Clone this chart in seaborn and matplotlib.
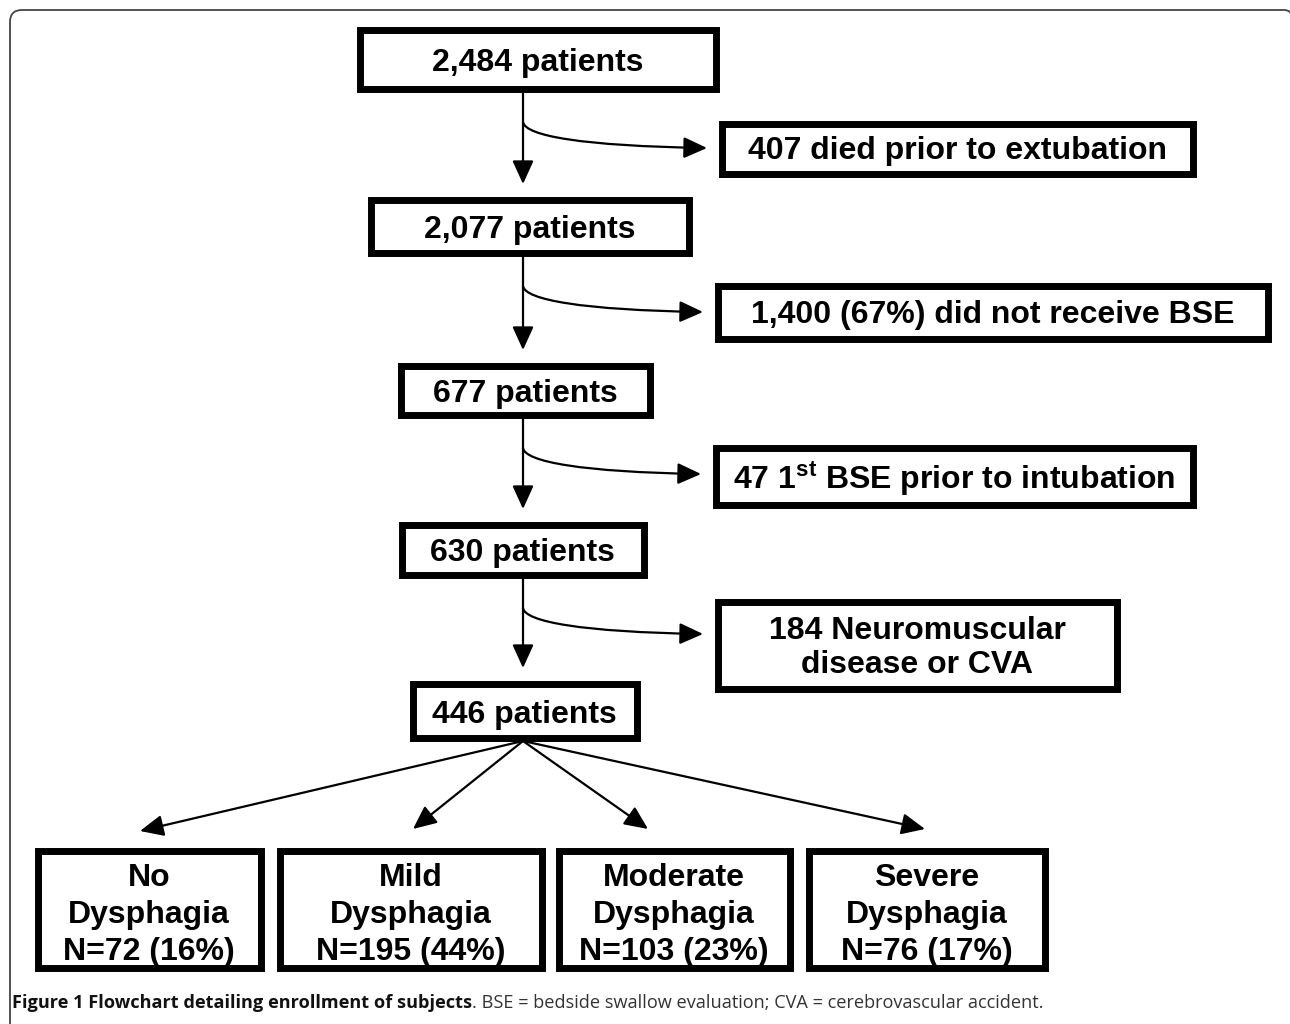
import matplotlib
matplotlib.use("Agg")
import matplotlib.pyplot as plt
import seaborn as sns
from matplotlib.patches import Rectangle, FancyArrowPatch, PathPatch
from matplotlib.path import Path

sns.set_theme(style="white")
plt.rcParams['font.family'] = ['Liberation Sans', 'DejaVu Sans']
plt.rcParams['mathtext.fontset'] = 'custom'
plt.rcParams['mathtext.rm'] = 'Liberation Sans:bold'
plt.rcParams['mathtext.bf'] = 'Liberation Sans:bold'

# ---- data ----
main_counts = [2484, 2077, 677, 630, 446]
main_labels = ["2,484 patients", "2,077 patients", "677 patients", "630 patients", "446 patients"]
excluded_labels = ["407 died prior to extubation",
                   "1,400 (67%) did not receive BSE",
                   "47 1$^{\\mathrm{st}}$ BSE prior to intubation",
                   "184 Neuromuscular\ndisease or CVA"]
outcome_labels = ["No\nDysphagia\nN=72 (16%)", "Mild\nDysphagia\nN=195 (44%)",
                  "Moderate\nDysphagia\nN=103 (23%)", "Severe\nDysphagia\nN=76 (17%)"]
caption_bold = "Figure 1 Flowchart detailing enrollment of subjects"
caption_rest = ". BSE = bedside swallow evaluation; CVA = cerebrovascular accident."

# ---- layout (pixel extents: x0, y0, x1, y1) ----
main_boxes = [(356, 26, 719, 92), (367, 196, 692, 256), (397, 362, 653, 418),
              (398, 521, 647, 578), (409, 680, 640, 741)]
excl_boxes = [(718, 120, 1196, 177), (714, 282, 1271, 342), (712, 444, 1196, 508),
              (714, 598, 1120, 692)]
out_boxes = [(34, 847, 264, 971), (276, 847, 545, 971), (555, 847, 793, 971),
             (805, 847, 1048, 971)]
out_tips = [(140, 831), (413, 829), (648, 829), (925, 829)]

W, H = 1290, 1024
fig = plt.figure(figsize=(W / 100, H / 100), dpi=100)
ax = fig.add_axes([0, 0, 1, 1])
ax.set_xlim(0, W)
ax.set_ylim(H, 0)
ax.axis('off')

LW = 5.0
FS = 23
XC = 523

def box(ext, text, ls=1.15, dy=4):
    x0, y0, x1, y1 = ext
    ins = 3.5
    ax.add_patch(Rectangle((x0 + ins, y0 + ins), x1 - x0 - 2 * ins, y1 - y0 - 2 * ins,
                           fill=False, ec='black', lw=LW, joinstyle='miter'))
    ax.text((x0 + x1) / 2, (y0 + y1) / 2 + dy, text, ha='center', va='center',
            fontsize=FS, fontweight='bold', color='black', linespacing=ls)

for ext, lab in zip(main_boxes, main_labels):
    box(ext, lab)
for ext, lab in zip(excl_boxes, excluded_labels):
    box(ext, lab, dy=3)
for ext, lab in zip(out_boxes, outcome_labels):
    box(ext, lab, ls=1.3, dy=6)

arrow_style = '-|>,head_length=1.1,head_width=0.5'
MS = 13

# vertical arrows and curved branches
for i in range(4):
    top = main_boxes[i][3]
    nxt = main_boxes[i + 1][1]
    ax.add_patch(FancyArrowPatch((XC, top), (XC, nxt - 12), arrowstyle=arrow_style,
                                 mutation_scale=MS, color='black', lw=1.6,
                                 shrinkA=0, shrinkB=0))
    ys = top + 30
    ye = ys + 26
    xe = excl_boxes[i][0] - 11
    p = Path([(XC, ys), (XC + 2, ys + 14), (XC + 60, ye - 2), (xe, ye)],
             [Path.MOVETO, Path.CURVE4, Path.CURVE4, Path.CURVE4])
    ax.add_patch(FancyArrowPatch(path=p, arrowstyle=arrow_style, mutation_scale=MS,
                                 color='black', lw=1.6, shrinkA=0, shrinkB=0))

# fan arrows
b5 = main_boxes[4]
for tip in out_tips:
    ax.add_patch(FancyArrowPatch((XC, b5[3]), tip, arrowstyle=arrow_style,
                                 mutation_scale=MS, color='black', lw=1.6,
                                 shrinkA=0, shrinkB=0))

# outer frame
r = 12
frame = Path([(10, H + 5), (10, 10 + r), (10, 10), (10 + r, 10), (W - 6, 10), (W + 2, 10), (W + 2, 18)],
             [Path.MOVETO, Path.LINETO, Path.CURVE3, Path.CURVE3, Path.LINETO, Path.CURVE3, Path.CURVE3])
ax.add_patch(PathPatch(frame, fill=False, ec='#444444', lw=1.3))

# caption
cap_font = ['Open Sans', 'DejaVu Sans']
CFS = 13.1
t1 = ax.text(12, 1003, caption_bold, ha='left', va='center', fontsize=CFS,
             fontweight='bold', family=cap_font, color='#111111')
fig.canvas.draw()
bb = t1.get_window_extent()
x_end = ax.transData.inverted().transform((bb.x1, bb.y0))[0]
ax.text(x_end, 1003, caption_rest, ha='left', va='center', fontsize=CFS,
        family=cap_font, color='#333333')

fig.savefig("out.png", dpi=100, facecolor='white')
